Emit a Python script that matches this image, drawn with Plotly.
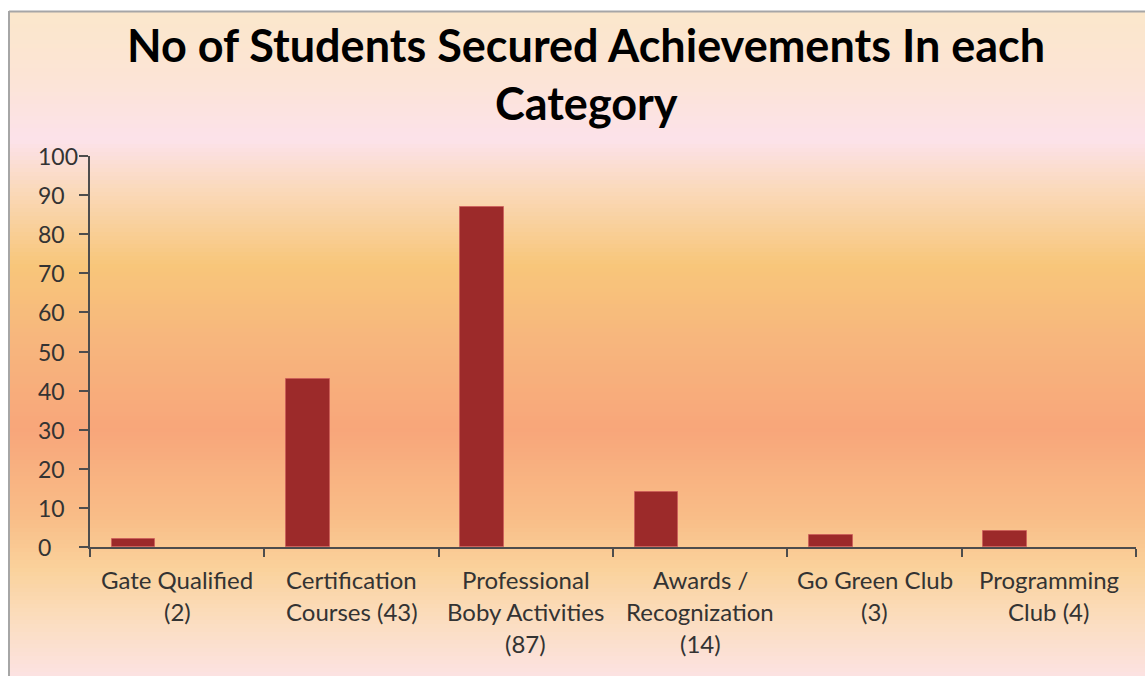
"""Bar chart: number of students with achievements in each category."""

import plotly.graph_objects as go

W, H = 1145, 676
PLOT_L, PLOT_R, PLOT_T, PLOT_B = 90, 1136, 156, 547

categories = [
    "Gate Qualified\n(2)",
    "Certification\nCourses (43)",
    "Professional\nBoby Activities\n(87)",
    "Awards /\nRecognization\n(14)",
    "Go Green Club\n(3)",
    "Programming\nClub (4)",
]
students = [2, 43, 87, 14, 3, 4]
y_ticks = [0, 10, 20, 30, 40, 50, 60, 70, 80, 90, 100]
title_lines = ["No of Students Secured Achievements In each", "Category"]

FONT = "Lato"

# background gradient stops (pixel y, colour)
bg_stops = [
    (12, (251, 231, 203)),
    (80, (252, 228, 214)),
    (140, (252, 226, 234)),
    (190, (250, 217, 186)),
    (265, (248, 198, 122)),
    (340, (247, 182, 125)),
    (430, (248, 166, 122)),
    (520, (249, 190, 136)),
    (570, (250, 210, 156)),
    (625, (251, 222, 194)),
    (676, (252, 226, 226)),
]


def px_x(x):
    return (x - PLOT_L) / (PLOT_R - PLOT_L)


def px_y(y):
    return (PLOT_B - y) / (PLOT_B - PLOT_T)


def bg_color(y):
    for (y0, c0), (y1, c1) in zip(bg_stops, bg_stops[1:]):
        if y0 <= y <= y1:
            t = (y - y0) / (y1 - y0)
            r, g, b = (round(a + (b_ - a) * t) for a, b_ in zip(c0, c1))
            return f"rgb({r},{g},{b})"
    return "rgb(252,226,226)"


fig = go.Figure()

fig.add_trace(go.Bar(
    x=list(range(len(categories))),
    y=students,
    width=0.25,
    offset=-0.375,
    marker=dict(color="#9C2A2A", line=dict(color="rgba(205,90,90,0.7)", width=1)),
    hoverinfo="y",
    showlegend=False,
))

shapes = []
# gradient strips
step = 4
for y in range(12, H, step):
    shapes.append(dict(
        type="rect", xref="paper", yref="paper", layer="below",
        x0=px_x(9), x1=px_x(W + 2), y0=px_y(y + step + 0.5), y1=px_y(y),
        fillcolor=bg_color(y + step / 2), line_width=0,
    ))
# chart border (top + left)
shapes.append(dict(type="line", xref="paper", yref="paper", x0=px_x(9), x1=px_x(W),
                   y0=px_y(11.5), y1=px_y(11.5), line=dict(color="#A6A6A6", width=2)))
shapes.append(dict(type="line", xref="paper", yref="paper", x0=px_x(9), x1=px_x(9),
                   y0=px_y(11), y1=px_y(H + 2), line=dict(color="#A6A6A6", width=2)))

annotations = []
for i, line in enumerate(title_lines):
    annotations.append(dict(
        text=line, xref="paper", yref="paper", x=px_x(586), y=px_y(45 + 58 * i),
        xanchor="center", yanchor="middle", showarrow=False,
        font=dict(family=FONT, size=45, color="black", weight="bold"),
    ))

for i, label in enumerate(categories):
    for j, line in enumerate(label.split("\n")):
        annotations.append(dict(
            text=line, xref="x", yref="paper", x=i, y=px_y(579 + 32 * j),
            xanchor="center", yanchor="middle", showarrow=False,
            font=dict(family=FONT, size=24, color="#333333"),
        ))

for v in y_ticks:
    annotations.append(dict(
        text=str(v), xref="paper", yref="y", x=px_x(36), y=v,
        xanchor="left", yanchor="middle", showarrow=False,
        font=dict(family=FONT, size=23, color="#333333"),
    ))

fig.update_layout(
    width=W,
    height=H,
    margin=dict(l=PLOT_L, r=W - PLOT_R, t=PLOT_T, b=H - PLOT_B, pad=0),
    paper_bgcolor="white",
    plot_bgcolor="rgba(0,0,0,0)",
    shapes=shapes,
    annotations=annotations,
    xaxis=dict(
        range=[-0.5, len(categories) - 0.5],
        tickvals=[i - 0.5 for i in range(len(categories) + 1)],
        showticklabels=False,
        ticks="outside", ticklen=8, tickwidth=2, tickcolor="#4D4D4D",
        showline=True, linecolor="#4D4D4D", linewidth=2,
        showgrid=False, zeroline=False, fixedrange=True,
    ),
    yaxis=dict(
        range=[0, 100],
        tickvals=y_ticks,
        showticklabels=False,
        ticks="outside", ticklen=9, tickwidth=2, tickcolor="#4D4D4D",
        showline=True, linecolor="#4D4D4D", linewidth=2,
        showgrid=False, zeroline=False, fixedrange=True,
    ),
    bargap=0,
)

fig.write_html(
    "out.html",
    config={"displayModeBar": False},
    post_script="document.body.style.margin='0';document.body.style.overflow='hidden';",
)
